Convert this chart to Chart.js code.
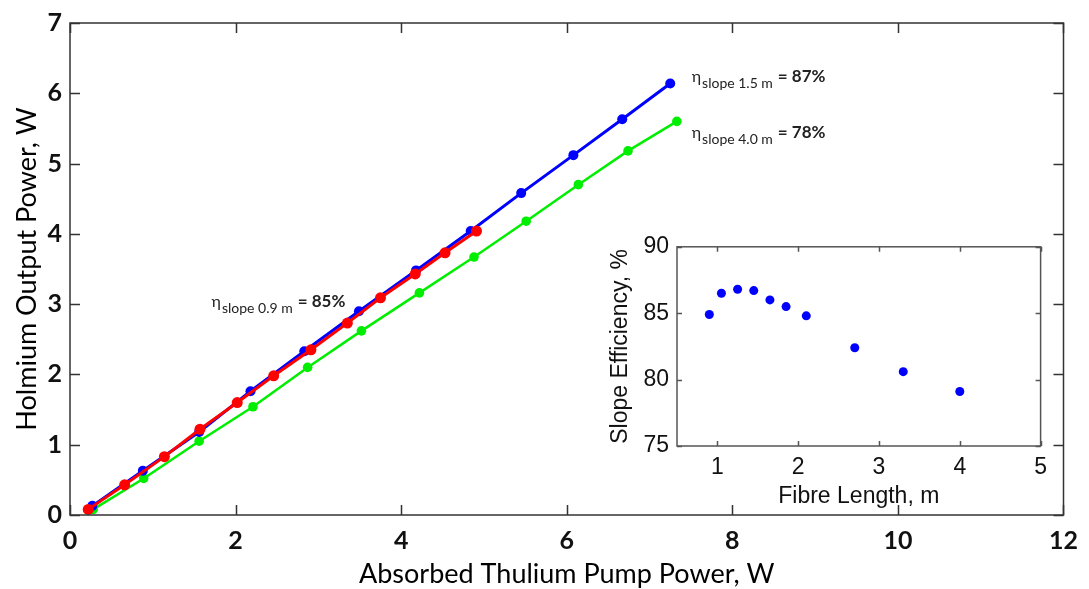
<!DOCTYPE html>
<html><head><meta charset="utf-8">
<script src="https://cdn.jsdelivr.net/npm/chart.js@4/dist/chart.umd.min.js"></script>
<style>
html,body{margin:0;padding:0;background:#fff;}
#wrap{position:relative;width:1089px;height:589px;}
#main{position:absolute;left:0;top:0;}
#inset{position:absolute;left:595px;top:225px;}
</style></head><body>
<div id="wrap"><canvas id="main" width="1089" height="589"></canvas><canvas id="inset" width="460" height="285"></canvas></div>
<script>
// ---- data ----
const pump15 = [0.27,0.88,1.56,2.18,2.83,3.49,4.18,4.84,5.45,6.08,6.67,7.25];
const out15  = [0.13,0.63,1.18,1.76,2.33,2.90,3.48,4.04,4.58,5.12,5.63,6.14];
const pump09 = [0.22,0.66,1.14,1.57,2.02,2.46,2.91,3.35,3.75,4.17,4.53,4.91];
const out09  = [0.08,0.43,0.83,1.22,1.60,1.98,2.35,2.73,3.09,3.43,3.73,4.04];
const pump40 = [0.28,0.89,1.56,2.21,2.87,3.52,4.22,4.88,5.51,6.14,6.74,7.33];
const out40  = [0.08,0.52,1.05,1.54,2.10,2.62,3.16,3.67,4.18,4.70,5.18,5.60];
const fibreLength = [0.9,1.05,1.25,1.45,1.65,1.85,2.1,2.7,3.3,4.0];
const slopeEff    = [84.9,86.5,86.8,86.7,86.0,85.5,84.8,82.4,80.6,79.1];
const mainXTicks = [0,2,4,6,8,10,12];
const mainYTicks = [0,1,2,3,4,5,6,7];
const insetXTicks = [1,2,3,4,5];
const insetYTicks = [75,80,85,90];
const annotations = [
  {x:7.51, y:6.16, sub:'slope 1.5 m', val:'= 87%'},
  {x:7.51, y:5.36, sub:'slope 4.0 m', val:'= 78%'},
  {x:1.71, y:2.96, sub:'slope 0.9 m', val:'= 85%'}
];

const pts = (xs, ys) => xs.map((x,i)=>({x, y: ys[i]}));
const MAINFONT = 'Lato';

const frameTicks = {
  id: 'frameTicks',
  afterDatasetsDraw(chart, args, o) {
    const {ctx, chartArea: a, scales} = chart;
    ctx.save();
    ctx.strokeStyle = o.color; ctx.lineWidth = o.width;
    ctx.beginPath();
    scales.x.ticks.forEach(t => {
      const p = Math.round(scales.x.getPixelForValue(t.value)) + 0.5;
      ctx.moveTo(p, a.bottom); ctx.lineTo(p, a.bottom - o.len);
      ctx.moveTo(p, a.top); ctx.lineTo(p, a.top + o.len);
    });
    scales.y.ticks.forEach(t => {
      const p = Math.round(scales.y.getPixelForValue(t.value)) + 0.5;
      ctx.moveTo(a.left, p); ctx.lineTo(a.left + o.len, p);
      ctx.moveTo(a.right, p); ctx.lineTo(a.right - o.len, p);
    });
    ctx.stroke();
    ctx.strokeRect(a.left, a.top, a.width, a.height);
    ctx.restore();
  }
};

const etaLabels = {
  id: 'etaLabels',
  afterDraw(chart, args, o) {
    const {ctx, scales} = chart;
    ctx.save();
    ctx.fillStyle = '#222';
    ctx.textBaseline = 'alphabetic';
    o.items.forEach(it => {
      let x = scales.x.getPixelForValue(it.x);
      const y = scales.y.getPixelForValue(it.y);
      ctx.font = '16px ' + MAINFONT;
      ctx.fillText('\u03B7', x, y);
      x += ctx.measureText('\u03B7').width + 1;
      ctx.font = '14px ' + MAINFONT;
      ctx.fillText(it.sub, x, y + 6);
      x += ctx.measureText(it.sub).width + 5;
      ctx.font = 'bold 17px ' + MAINFONT;
      ctx.fillText(it.val, x, y);
    });
    ctx.restore();
  }
};

new Chart(document.getElementById('main'), {
  type: 'scatter',
  data: { datasets: [
    {label:'0.9 m', data: pts(pump09, out09), showLine:true, borderColor:'#ff0000', backgroundColor:'#ff0000', borderWidth:3, pointRadius:5.5, pointBorderWidth:0},
    {label:'1.5 m', data: pts(pump15, out15), showLine:true, borderColor:'#0000ff', backgroundColor:'#0000ff', borderWidth:3, pointRadius:5, pointBorderWidth:0},
    {label:'4.0 m', data: pts(pump40, out40), showLine:true, borderColor:'#00ee00', backgroundColor:'#00ee00', borderWidth:2.5, pointRadius:4.8, pointBorderWidth:0}
  ]},
  options: {
    responsive:false, animation:false, devicePixelRatio:1,
    layout: {padding: {top:16, right:17, left:0, bottom:0}},
    plugins: {legend:{display:false}, tooltip:{enabled:false},
      frameTicks: {color:'#333', width:1.5, len:10},
      etaLabels: {items: annotations}},
    scales: {
      x: {type:'linear', min:0, max:12,
        afterBuildTicks: s => { s.ticks = mainXTicks.map(v=>({value:v})); },
        afterFit: s => { s.height = 74; },
        grid:{display:false, drawTicks:false}, border:{display:false},
        ticks:{font:{family:MAINFONT, size:25, weight:'bold'}, color:'#111', padding:11},
        title:{display:true, text:'Absorbed Thulium Pump Power, W', font:{family:MAINFONT, size:27}, color:'#000', padding:{top:0,bottom:-1}}},
      y: {type:'linear', min:0, max:7,
        afterBuildTicks: s => { s.ticks = mainYTicks.map(v=>({value:v})); },
        afterFit: s => { s.width = 70; },
        grid:{display:false, drawTicks:false}, border:{display:false},
        ticks:{font:{family:MAINFONT, size:25, weight:'bold'}, color:'#111', padding:8},
        title:{display:true, text:'Holmium Output Power, W', font:{family:MAINFONT, size:27}, color:'#000', padding:{top:11,bottom:0}}}
    }
  },
  plugins: [frameTicks, etaLabels]
});

const INFONT = 'Liberation Sans';
new Chart(document.getElementById('inset'), {
  type: 'scatter',
  data: { datasets: [
    {label:'slope', data: pts(fibreLength, slopeEff), borderColor:'#0000ff', backgroundColor:'#0000ff', pointRadius:4.5, pointBorderWidth:0}
  ]},
  options: {
    responsive:false, animation:false, devicePixelRatio:1,
    layout: {padding: {top:9, right:14, left:0, bottom:0}},
    plugins: {legend:{display:false}, tooltip:{enabled:false},
      frameTicks: {color:'#555', width:1.5, len:5}},
    scales: {
      x: {type:'linear', min:0.5, max:5,
        afterBuildTicks: s => { s.ticks = insetXTicks.map(v=>({value:v})); },
        afterFit: s => { s.height = 64; },
        grid:{display:false, drawTicks:false}, border:{display:false},
        ticks:{font:{family:INFONT, size:23}, color:'#111', padding:8},
        title:{display:true, text:'Fibre Length, m', font:{family:INFONT, size:23}, color:'#111', padding:{top:0,bottom:0}}},
      y: {type:'linear', min:75, max:90,
        afterBuildTicks: s => { s.ticks = insetYTicks.map(v=>({value:v})); },
        afterFit: s => { s.width = 82; },
        grid:{display:false, drawTicks:false}, border:{display:false},
        ticks:{font:{family:INFONT, size:23}, color:'#111', padding:8},
        title:{display:true, text:'Slope Efficiency, %', font:{family:INFONT, size:23}, color:'#111', padding:{top:12,bottom:0}}}
    }
  },
  plugins: [frameTicks]
});
</script>
</body></html>
